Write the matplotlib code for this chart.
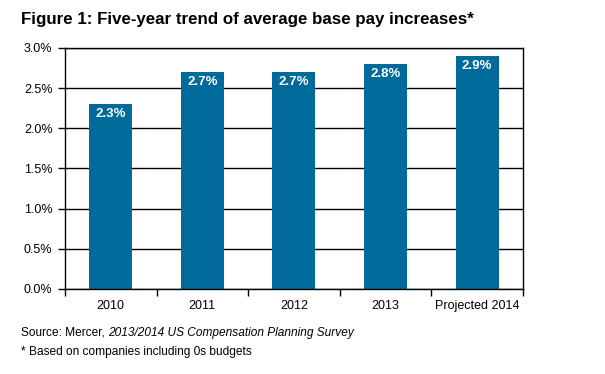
import matplotlib.pyplot as plt
import numpy as np

years = ['2010', '2011', '2012', '2013', 'Projected 2014']
increases = [2.3, 2.7, 2.7, 2.8, 2.9]
y_ticks = [0.0, 0.5, 1.0, 1.5, 2.0, 2.5, 3.0]

plt.rcParams['font.family'] = 'Liberation Sans'

bar_color = '#006a9a'

fig = plt.figure(figsize=(6.05, 3.74), dpi=100)
ax = fig.add_axes([0.1074, 0.2273, 0.757, 0.6444])

x = np.arange(len(years))
ax.bar(x, increases, width=0.47, color=bar_color, zorder=2)
for xi, v in zip(x, increases):
    ax.text(xi, v - 0.125, f'{v:.1f}%', ha='center', va='center', color='white',
            fontsize=9.5, fontweight='bold', zorder=3)

ax.set_xlim(-0.5, len(years) - 0.5)
ax.set_ylim(0, 3.0)
ax.set_yticks(y_ticks)
ax.set_yticklabels([f'{t:.1f}%' for t in y_ticks], fontsize=9)
ax.yaxis.grid(True, color='black', linewidth=1, zorder=1)

# ticks on category boundaries, labels in the middle
ax.set_xticks(np.arange(len(years) + 1) - 0.5)
ax.set_xticklabels([])
ax.set_xticks(x, minor=True)
ax.set_xticklabels(years, minor=True, fontsize=9)
ax.tick_params(axis='x', which='major', length=5, width=1, direction='out')
ax.tick_params(axis='x', which='minor', length=0, pad=8)
ax.tick_params(axis='y', length=5, width=1, pad=4)

for s in ax.spines.values():
    s.set_linewidth(1)
    s.set_color('black')

fig.text(0.035, 0.947, 'Figure 1: Five-year trend of average base pay increases*',
         fontsize=12.2, fontweight='bold', va='center')
src = fig.text(0.035, 0.11, 'Source: Mercer,', fontsize=8.6, va='center')
ax.annotate('2013/2014 US Compensation Planning Survey', xy=(1, 0.5), xycoords=src,
            xytext=(2, 0), textcoords='offset points', fontsize=8.6, style='italic',
            va='center', annotation_clip=False)
fig.text(0.035, 0.059, '* Based on companies including 0s budgets', fontsize=8.6, va='center')

fig.savefig('out.png', dpi=100)
